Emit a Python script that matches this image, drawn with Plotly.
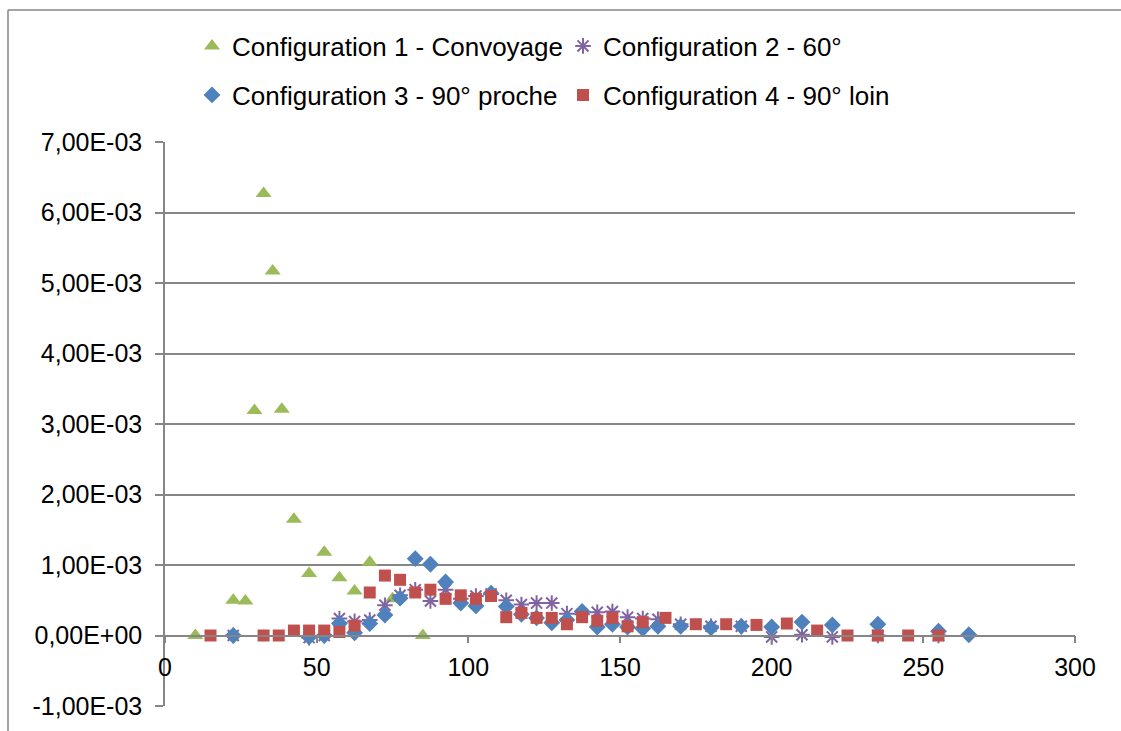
import plotly.graph_objects as go

# ---------------- data ----------------
x1 = [10, 22.5, 26.5, 29.5, 32.5, 35.5, 38.5, 42.5, 47.5, 52.5, 57.5, 62.5, 67.5, 75, 85]
y1 = [0.0, 0.50e-3, 0.49e-3, 3.19e-3, 6.27e-3, 5.17e-3, 3.21e-3, 1.65e-3, 0.88e-3, 1.18e-3,
      0.82e-3, 0.63e-3, 1.04e-3, 0.52e-3, 0.0]

x2 = [22.5, 47.5, 52.5, 57.5, 62.5, 67.5, 72.5, 77.5, 82.5, 87.5, 92.5, 97.5, 102.5, 107.5,
      112.5, 117.5, 122.5, 127.5, 132.5, 137.5, 142.5, 147.5, 152.5, 157.5, 162.5, 170, 180,
      190, 200, 210, 220, 235, 255]
y2 = [0.0, -0.03e-3, 0.0, 0.24e-3, 0.20e-3, 0.22e-3, 0.43e-3, 0.57e-3, 0.65e-3, 0.49e-3,
      0.65e-3, 0.52e-3, 0.56e-3, 0.59e-3, 0.50e-3, 0.44e-3, 0.46e-3, 0.46e-3, 0.31e-3, 0.30e-3,
      0.33e-3, 0.34e-3, 0.26e-3, 0.24e-3, 0.23e-3, 0.16e-3, 0.13e-3, 0.13e-3, -0.02e-3,
      0.01e-3, -0.02e-3, 0.0, 0.0]

x3 = [22.5, 47.5, 52.5, 57.5, 62.5, 67.5, 72.5, 77.5, 82.5, 87.5, 92.5, 97.5, 102.5, 107.5,
      112.5, 117.5, 122.5, 127.5, 132.5, 137.5, 142.5, 147.5, 152.5, 157.5, 162.5, 170, 180,
      190, 200, 210, 220, 235, 255, 265]
y3 = [0.0, -0.02e-3, 0.0, 0.17e-3, 0.04e-3, 0.17e-3, 0.29e-3, 0.53e-3, 1.09e-3, 1.01e-3,
      0.76e-3, 0.46e-3, 0.42e-3, 0.60e-3, 0.41e-3, 0.30e-3, 0.25e-3, 0.18e-3, 0.22e-3, 0.34e-3,
      0.12e-3, 0.16e-3, 0.12e-3, 0.10e-3, 0.13e-3, 0.13e-3, 0.11e-3, 0.13e-3, 0.12e-3,
      0.19e-3, 0.15e-3, 0.16e-3, 0.06e-3, 0.01e-3]

x4 = [15, 32.5, 37.5, 42.5, 47.5, 52.5, 57.5, 62.5, 67.5, 72.5, 77.5, 82.5, 87.5, 92.5, 97.5,
      102.5, 107.5, 112.5, 117.5, 122.5, 127.5, 132.5, 137.5, 142.5, 147.5, 152.5, 157.5, 165,
      175, 185, 195, 205, 215, 225, 235, 245, 255]
y4 = [0.0, 0.0, 0.0, 0.07e-3, 0.07e-3, 0.07e-3, 0.05e-3, 0.14e-3, 0.61e-3, 0.85e-3, 0.79e-3,
      0.61e-3, 0.65e-3, 0.52e-3, 0.57e-3, 0.52e-3, 0.56e-3, 0.26e-3, 0.32e-3, 0.25e-3, 0.25e-3,
      0.16e-3, 0.26e-3, 0.21e-3, 0.25e-3, 0.13e-3, 0.19e-3, 0.25e-3, 0.16e-3, 0.16e-3, 0.15e-3,
      0.17e-3, 0.07e-3, 0.0, 0.0, 0.0, 0.0]

names = ["Configuration 1 - Convoyage", "Configuration 2 - 60°",
         "Configuration 3 - 90° proche", "Configuration 4 - 90° loin"]

y_tickvals = [-1e-3, 0, 1e-3, 2e-3, 3e-3, 4e-3, 5e-3, 6e-3, 7e-3]
y_ticktext = ["-1,00E-03", "0,00E+00", "1,00E-03", "2,00E-03", "3,00E-03",
              "4,00E-03", "5,00E-03", "6,00E-03", "7,00E-03"]
grid_vals = [0, 1e-3, 2e-3, 3e-3, 4e-3, 5e-3, 6e-3, 7e-3]
x_tickvals = [0, 50, 100, 150, 200, 250, 300]

# ---------------- figure ----------------
W, H = 1121, 731
L, R, T, B = 165, 1075, 142, 706  # plot area px
FONT = "Liberation Sans, Arial, sans-serif"
FS = 25
LFS = 26
GRAY = "#868686"

fig = go.Figure()
fig.add_trace(go.Scatter(x=[], y=[], yaxis="y2", showlegend=False, hoverinfo="skip"))
fig.add_trace(go.Scatter(x=x1, y=y1, mode="markers", name=names[0], legend="legend",
                         marker=dict(symbol="triangle-up", size=14, color="#9BBB59")))
fig.add_trace(go.Scatter(x=x2, y=y2, mode="markers", name=names[1], legend="legend",
                         marker=dict(symbol="asterisk-open", size=13, color="#8064A2",
                                     line=dict(color="#8064A2", width=2))))
fig.add_trace(go.Scatter(x=x3, y=y3, mode="markers", name=names[2], legend="legend2",
                         marker=dict(symbol="diamond", size=13, color="#4F81BD")))
fig.add_trace(go.Scatter(x=x4, y=y4, mode="markers", name=names[3], legend="legend2",
                         marker=dict(symbol="square", size=12, color="#C0504D")))

pw, ph = R - L, B - T
def px_x(p):
    return (p - L) / pw
def px_y(p):
    return (B - p) / ph

ymin, ymax = -1e-3, 7e-3
zero_pos = (0 - ymin) / (ymax - ymin)

fig.update_layout(
    width=W, height=H,
    margin=dict(l=L, r=W - R, t=T, b=H - B, pad=0, autoexpand=False),
    paper_bgcolor="white", plot_bgcolor="white",
    font=dict(family=FONT, size=FS, color="black"),
    xaxis=dict(range=[0, 300], tickvals=x_tickvals, showgrid=False, zeroline=False,
               showline=True, linecolor=GRAY, linewidth=1.5,
               ticks="outside", ticklen=7, tickcolor=GRAY, tickwidth=1.5,
               anchor="free", position=zero_pos, ticklabelstandoff=3,
               tickfont=dict(family=FONT, size=FS, color="black")),
    yaxis=dict(range=[ymin, ymax], tickvals=y_tickvals, ticktext=y_ticktext,
               showgrid=False, zeroline=False, showline=True, linecolor=GRAY, linewidth=1.5,
               ticks="outside", ticklen=8, tickcolor=GRAY, tickwidth=1.5,
               ticklabelstandoff=8,
               tickfont=dict(family=FONT, size=FS, color="black")),
    yaxis2=dict(range=[ymin, ymax], overlaying="y", tickvals=grid_vals, showticklabels=False,
                showgrid=True, gridcolor=GRAY, gridwidth=1.5, zeroline=False,
                showline=False, ticks=""),
    legend=dict(orientation="h", x=px_x(192), y=px_y(46), xanchor="left", yanchor="middle",
                entrywidth=326, entrywidthmode="pixels", bgcolor="rgba(0,0,0,0)",
                font=dict(family=FONT, size=LFS, color="black"), itemclick=False),
    legend2=dict(orientation="h", x=px_x(192), y=px_y(95), xanchor="left", yanchor="middle",
                 entrywidth=326, entrywidthmode="pixels", bgcolor="rgba(0,0,0,0)",
                 font=dict(family=FONT, size=LFS, color="black"), itemclick=False),
    showlegend=True,
)

# outer chart frame (left and top edges visible)
fig.add_shape(type="line", xref="paper", yref="paper",
              x0=px_x(8), x1=px_x(8), y0=px_y(731), y1=px_y(10),
              line=dict(color=GRAY, width=1.5))
fig.add_shape(type="line", xref="paper", yref="paper",
              x0=px_x(8), x1=px_x(1121), y0=px_y(10), y1=px_y(10),
              line=dict(color=GRAY, width=1.5))

fig.write_html("out.html", config={"displayModeBar": False},
               post_script="document.body.style.margin='0';document.body.style.padding='0';")
